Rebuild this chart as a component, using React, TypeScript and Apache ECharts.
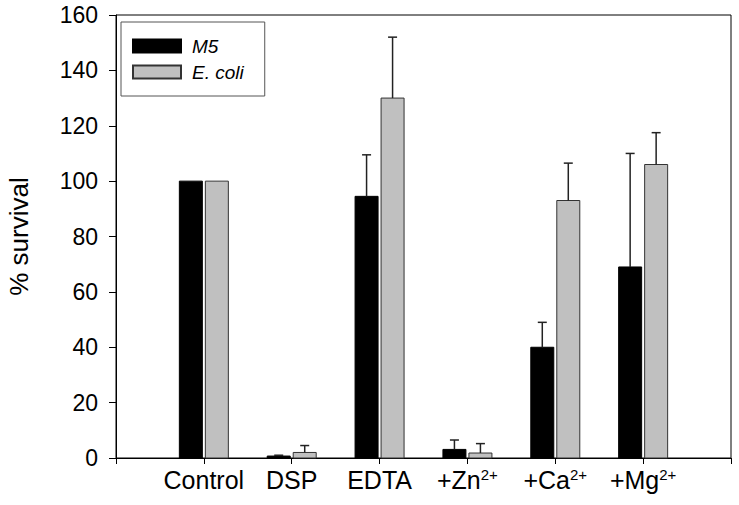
import React, { useEffect, useRef } from "react";
import * as echarts from "echarts";

const categories = ["Control", "DSP", "EDTA", "+Zn{sup|2+}", "+Ca{sup|2+}", "+Mg{sup|2+}"];
const seriesNames = ["M5", "E. coli"];
const m5Values = [100, 0.7, 94.5, 3.1, 40, 69];
const m5Errors = [0, 0.3, 15, 3.4, 9, 41];
const ecoliValues = [100, 2, 130, 1.8, 93, 106];
const ecoliErrors = [0, 2.5, 22, 3.4, 13.5, 11.5];
const yTicks = [0, 20, 40, 60, 80, 100, 120, 140, 160];

const FONT = "Liberation Sans, Arial, sans-serif";

function makeSeries(name: string, values: number[], errors: number[], offset: number, fill: string, stroke: string) {
  return {
    name,
    type: "custom",
    data: values.map((v, i) => [i + 1, v, errors[i]]),
    itemStyle: { color: fill, borderColor: stroke, borderWidth: 1 },
    renderItem: (params: any, api: any) => {
      const x = api.value(0);
      const v = api.value(1);
      const e = api.value(2);
      const base = api.coord([x, 0]);
      const top = api.coord([x, v]);
      const errTop = api.coord([x, v + e]);
      const cx = base[0] + offset;
      const w = 23;
      const children: any[] = [
        {
          type: "rect",
          shape: { x: cx - w / 2, y: top[1], width: w, height: base[1] - top[1] },
          style: { fill, stroke, lineWidth: 1 },
        },
      ];
      if (e > 0) {
        children.push(
          {
            type: "line",
            shape: { x1: cx, y1: top[1], x2: cx, y2: errTop[1] },
            style: { stroke: "#222", lineWidth: 1.5 },
          },
          {
            type: "line",
            shape: { x1: cx - 4.5, y1: errTop[1], x2: cx + 4.5, y2: errTop[1] },
            style: { stroke: "#222", lineWidth: 1.5 },
          }
        );
      }
      return { type: "group", children };
    },
  };
}

export default function App() {
  const ref = useRef<HTMLDivElement>(null);
  useEffect(() => {
    if (!ref.current) return;
    const chart = echarts.init(ref.current, undefined, { renderer: "svg" });
    chart.setOption({
      animation: false,
      backgroundColor: "#fff",
      grid: {
        left: 116,
        top: 15,
        right: 8,
        bottom: 47,
        outerBoundsMode: "none",
        containLabel: false,
        show: true,
        borderColor: "#000",
        borderWidth: 1,
        backgroundColor: "transparent",
      },
      legend: {
        orient: "vertical",
        left: 121,
        top: 22,
        data: seriesNames.map((n) => ({ name: n, icon: "rect" })),
        itemWidth: 48,
        itemHeight: 13,
        itemGap: 4,
        padding: [13, 21, 13, 11],
        borderColor: "#555",
        borderWidth: 1,
        textStyle: {
          fontFamily: FONT,
          fontSize: 19,
          lineHeight: 22,
          fontStyle: "italic",
          color: "#000",
          padding: [0, 0, 0, 6],
        },
      },
      xAxis: {
        type: "value",
        min: 0,
        max: 7,
        interval: 1,
        splitLine: { show: false },
        axisLine: { show: true, lineStyle: { color: "#000", width: 1 } },
        axisTick: { show: true, length: 6, lineStyle: { color: "#000" } },
        axisLabel: {
          margin: 9,
          fontFamily: FONT,
          fontSize: 25,
          color: "#000",
          formatter: (v: number) => (v >= 1 && v <= 6 ? categories[v - 1] : ""),
          rich: {
            sup: { fontFamily: FONT, fontSize: 15, color: "#000", verticalAlign: "top", padding: [0, 0, 9, 0] },
          },
        },
      },
      yAxis: {
        type: "value",
        min: yTicks[0],
        max: yTicks[yTicks.length - 1],
        interval: 20,
        name: "% survival",
        nameLocation: "middle",
        nameGap: 84,
        nameTextStyle: { fontFamily: FONT, fontSize: 26, color: "#000" },
        splitLine: { show: false },
        axisLine: { show: true, lineStyle: { color: "#000", width: 1 } },
        axisTick: { show: true, length: 7, lineStyle: { color: "#000" } },
        axisLabel: { margin: 18, fontFamily: FONT, fontSize: 23, color: "#000" },
      },
      series: [
        makeSeries(seriesNames[0], m5Values, m5Errors, -13, "#000", "#000"),
        makeSeries(seriesNames[1], ecoliValues, ecoliErrors, 13, "#c0c0c0", "#333"),
      ],
    });
    return () => chart.dispose();
  }, []);
  return <div ref={ref} style={{ position: "absolute", left: 0, top: 0, width: 739, height: 505 }} />;
}
